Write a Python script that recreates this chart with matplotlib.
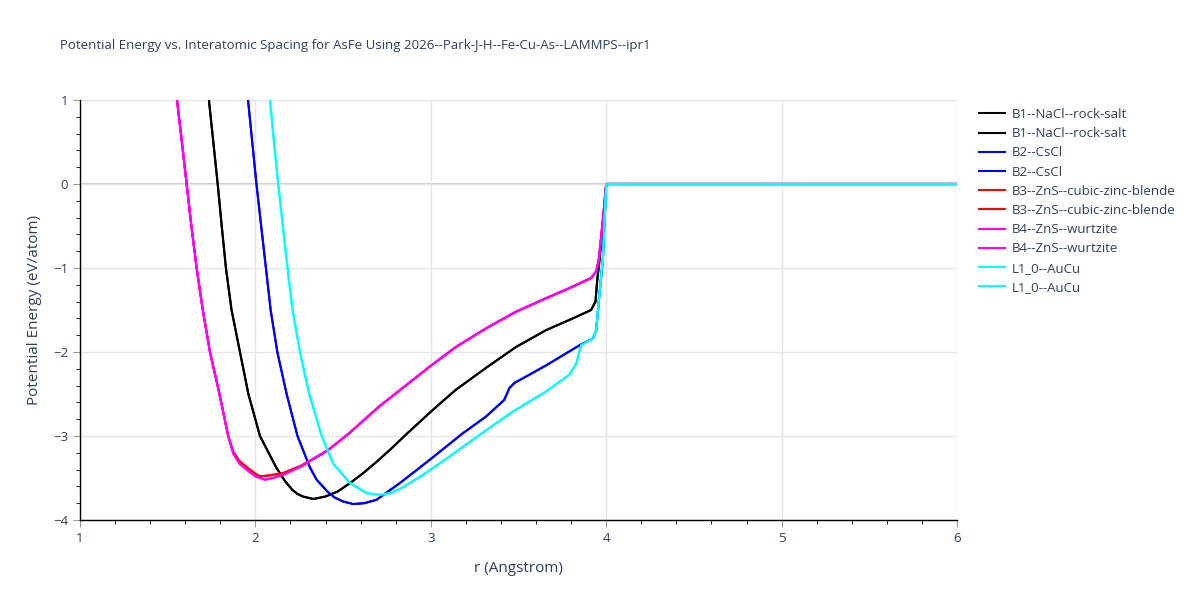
import matplotlib.pyplot as plt
from matplotlib.ticker import MultipleLocator

# B1--NaCl--rock-salt
r_b1 = [1.735, 1.76, 1.785, 1.808, 1.832, 1.864, 1.912, 1.96, 2.026, 2.12, 2.17, 2.21, 2.24,
        2.27, 2.33, 2.40, 2.47, 2.54, 2.61, 2.695, 2.78, 2.86, 2.99, 3.06, 3.143, 3.314, 3.486,
        3.657, 3.81, 3.914, 3.939, 3.949, 3.962, 3.985, 4.0, 6.0]
e_b1 = [1.0, 0.5, 0.0, -0.5, -1.0, -1.5, -2.0, -2.5, -3.0, -3.38, -3.54, -3.64, -3.69,
        -3.72, -3.75, -3.72, -3.66, -3.56, -3.45, -3.30, -3.14, -2.98, -2.73, -2.60, -2.45, -2.19,
        -1.94, -1.74, -1.60, -1.50, -1.40, -1.14, -0.90, -0.40, 0.0, 0.0]

# B2--CsCl
r_b2 = [1.958, 1.982, 2.006, 2.06, 2.087, 2.125, 2.178, 2.24, 2.31, 2.349, 2.41, 2.45, 2.50,
        2.558, 2.62, 2.69, 2.824, 2.99, 3.181, 3.314, 3.419, 3.448, 3.476, 3.657, 3.848, 3.924,
        3.943, 3.962, 3.981, 4.0, 6.0]
e_b2 = [1.0, 0.5, 0.0, -1.0, -1.5, -2.0, -2.5, -3.0, -3.37, -3.52, -3.66, -3.73, -3.78,
        -3.81, -3.80, -3.76, -3.56, -3.29, -2.97, -2.77, -2.57, -2.43, -2.37, -2.16, -1.92, -1.84,
        -1.74, -1.30, -0.90, 0.0, 0.0]

# B3--ZnS--cubic-zinc-blende
r_b3 = [1.553, 1.581, 1.608, 1.635, 1.665, 1.70, 1.741, 1.79, 1.845, 1.874, 1.91, 1.95, 2.0,
        2.026, 2.08, 2.16, 2.254, 2.368, 2.419, 2.533, 2.705, 2.857, 2.99, 3.143, 3.314, 3.486,
        3.657, 3.79, 3.914, 3.943, 3.958, 3.98, 4.0, 6.0]
e_b3 = [1.0, 0.5, 0.0, -0.5, -1.0, -1.5, -2.0, -2.45, -3.0, -3.19, -3.30, -3.37, -3.45,
        -3.48, -3.47, -3.44, -3.36, -3.23, -3.16, -2.97, -2.65, -2.40, -2.18, -1.94, -1.72, -1.52,
        -1.36, -1.24, -1.12, -1.04, -0.90, -0.45, 0.0, 0.0]

# B4--ZnS--wurtzite
r_b4 = [1.553, 1.581, 1.608, 1.635, 1.665, 1.70, 1.741, 1.79, 1.845, 1.874, 1.91, 1.95, 2.0,
        2.055, 2.10, 2.16, 2.273, 2.33, 2.419, 2.533, 2.705, 2.857, 2.99, 3.143, 3.314, 3.486,
        3.657, 3.79, 3.914, 3.943, 3.958, 3.98, 4.0, 6.0]
e_b4 = [1.0, 0.5, 0.0, -0.5, -1.0, -1.5, -2.0, -2.45, -3.0, -3.21, -3.33, -3.40, -3.48,
        -3.52, -3.50, -3.46, -3.35, -3.27, -3.16, -2.97, -2.65, -2.40, -2.18, -1.94, -1.72, -1.52,
        -1.36, -1.24, -1.12, -1.04, -0.90, -0.45, 0.0, 0.0]

# L1_0--AuCu
r_l10 = [2.083, 2.106, 2.13, 2.183, 2.212, 2.254, 2.307, 2.378, 2.444, 2.54, 2.634, 2.71,
         2.77, 2.824, 2.95, 3.076, 3.276, 3.467, 3.657, 3.79, 3.829, 3.857, 3.924, 3.943, 3.962,
         3.981, 4.0, 6.0]
e_l10 = [1.0, 0.5, 0.0, -1.0, -1.5, -2.0, -2.5, -3.0, -3.33, -3.56, -3.68, -3.70,
         -3.68, -3.63, -3.47, -3.29, -2.99, -2.71, -2.47, -2.27, -2.14, -1.92, -1.84, -1.74, -1.30,
         -0.90, 0.0, 0.0]

series = [
    ("B1--NaCl--rock-salt", r_b1, e_b1, "black"),
    ("B2--CsCl", r_b2, e_b2, "blue"),
    ("B3--ZnS--cubic-zinc-blende", r_b3, e_b3, "red"),
    ("B4--ZnS--wurtzite", r_b4, e_b4, "magenta"),
    ("L1_0--AuCu", r_l10, e_l10, "cyan"),
]

text_col = "#2a3f5f"
plt.rcParams['font.family'] = ['Open Sans', 'DejaVu Sans']

fig = plt.figure(figsize=(12, 6), dpi=100)
ax = fig.add_axes([80/1200, 1-520/600, 877/1200, 420/600])

for name, r, e, c in series:
    # every structure appears twice in the source figure
    ax.plot(r, e, color=c, lw=1.5, label=name, zorder=3)
    ax.plot(r, e, color=c, lw=1.5, label=name, zorder=3)

ax.set_xlim(1, 6)
ax.set_ylim(-4, 1)
ax.xaxis.set_major_locator(MultipleLocator(1))
ax.xaxis.set_minor_locator(MultipleLocator(0.2))
ax.yaxis.set_minor_locator(MultipleLocator(0.2))
ax.grid(True, which='major', color='#e5e5e5', lw=1, zorder=0)
ax.axhline(0, color='#cccccc', lw=1.5, zorder=1)

for s in ['top', 'right']:
    ax.spines[s].set_visible(False)
for s in ['left', 'bottom']:
    ax.spines[s].set_color('black')
    ax.spines[s].set_linewidth(1)
ax.tick_params(which='major', direction='out', length=5, color='#999999', labelcolor=text_col,
               labelsize=9.5)
ax.tick_params(which='minor', direction='out', length=3, color='black')
ax.set_yticks([-4, -3, -2, -1, 0, 1])
ax.set_yticklabels(['\u22124', '\u22123', '\u22122', '\u22121', '0', '1'])

ax.set_xlabel("r (Angstrom)", color=text_col, fontsize=11, labelpad=12)
ax.set_ylabel("Potential Energy (eV/atom)", color=text_col, fontsize=11, labelpad=8)
fig.text(60/1200, 1-45/600, "Potential Energy vs. Interatomic Spacing for AsFe Using 2026--Park-J-H--Fe-Cu-As--LAMMPS--ipr1",
         color=text_col, fontsize=9.5, va='center', ha='left')

leg = ax.legend(loc='upper left', bbox_to_anchor=(979/1200, 1-108/600), bbox_transform=fig.transFigure,
                frameon=False, fontsize=9.5, handlelength=2.0, handletextpad=0.5,
                labelspacing=0.47, borderaxespad=0, borderpad=0)
for t in leg.get_texts():
    t.set_color(text_col)

fig.savefig("out.png")
